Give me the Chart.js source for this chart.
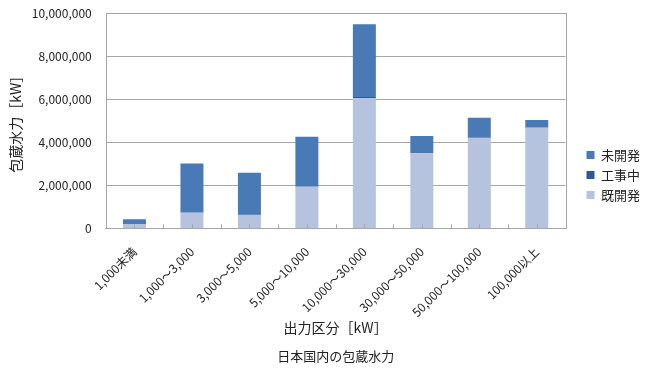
<!DOCTYPE html>
<html>
<head>
<meta charset="utf-8">
<script src="https://cdn.jsdelivr.net/npm/chart.js@4/dist/chart.umd.min.js"></script>
<style>
    html, body { margin: 0; padding: 0; background: #fff; }
    #wrap { width: 645px; height: 370px; }
</style>
</head>
<body>
<div id="wrap"><canvas id="chart"></canvas></div>
<script>
// Output classes [kW]
var categories = ['1,000未満', '1,000～3,000', '3,000～5,000', '5,000～10,000',
    '10,000～30,000', '30,000～50,000', '50,000～100,000', '100,000以上'];

// Hydropower potential [kW]
var developed = [200000, 730000, 620000, 1940000, 6050000, 3490000, 4210000, 4680000];
var underConstruction = [10000, 10000, 10000, 20000, 60000, 10000, 40000, 10000];
var undeveloped = [220000, 2280000, 1960000, 2300000, 3380000, 790000, 890000, 350000];

var yTicksMax = 10000000;
var yTicksStep = 2000000;

var FONT = '"Noto Sans CJK JP", "Noto Sans", sans-serif';
var LINE = '#a6a6a6';

// Draws the box round the plot area and the short tick marks on the category axis.
var plotBorder = {
    id: 'plotBorder',
    afterDraw: function (chart) {
        var area = chart.chartArea, ctx = chart.ctx, x = chart.scales.x;
        var i, n = x.ticks.length, half = (x.getPixelForTick(1) - x.getPixelForTick(0)) / 2;
        var marks = [];

        ctx.save();
        ctx.strokeStyle = LINE;
        ctx.lineWidth = 1;
        ctx.strokeRect(Math.round(area.left) + 0.5, Math.round(area.top) + 0.5,
            Math.round(area.right - area.left), Math.round(area.bottom - area.top));

        for (i = 0; i < n; i++) {
            marks.push(x.getPixelForTick(i));
            if (i > 0) {
                marks.push(x.getPixelForTick(i) - half);
            }
        }
        ctx.beginPath();
        marks.forEach(function (px) {
            px = Math.round(px) + 0.5;
            ctx.moveTo(px, area.bottom);
            ctx.lineTo(px, area.bottom - 4);
        });
        ctx.stroke();
        ctx.restore();
    }
};

Chart.defaults.font.family = FONT;
Chart.defaults.color = '#222';

new Chart(document.getElementById('chart'), {
    type: 'bar',
    data: {
        labels: categories,
        datasets: [
            { label: '既開発', data: developed, backgroundColor: '#b5c3de' },
            { label: '工事中', data: underConstruction, backgroundColor: '#2f5890' },
            { label: '未開発', data: undeveloped, backgroundColor: '#4a7ab6' }
        ]
    },
    options: {
        responsive: true,
        maintainAspectRatio: false,
        animation: false,
        locale: 'en-US',
        layout: { padding: { left: 7, right: -5, top: 0, bottom: 0 } },
        datasets: {
            bar: { categoryPercentage: 1, barPercentage: 0.4 }
        },
        scales: {
            x: {
                stacked: true,
                grid: { display: false },
                border: { color: LINE },
                ticks: {
                    minRotation: 45,
                    maxRotation: 45,
                    font: { size: 12 },
                    padding: 8
                },
                title: {
                    display: true,
                    text: '出力区分［kW］',
                    font: { size: 14 },
                    padding: { top: 4, bottom: 0 }
                },
                // the rotated labels get more room than they use
                afterFit: function (scale) { scale.height -= 12; }
            },
            y: {
                stacked: true,
                min: 0,
                max: yTicksMax,
                // invisible tick marks keep the labels off the plot
                grid: { color: LINE, tickColor: 'rgba(0,0,0,0)', tickLength: 8 },
                border: { display: false },
                ticks: {
                    stepSize: yTicksStep,
                    font: { size: 12 },
                    padding: 6
                },
                title: {
                    display: true,
                    text: '包蔵水力［kW］',
                    font: { size: 14 },
                    padding: { top: 0, bottom: 2 }
                }
            },
            // empty spacer between the plot and the legend
            gap: {
                type: 'linear',
                position: 'right',
                grid: { display: false },
                border: { display: false },
                ticks: { display: false },
                afterFit: function (scale) { scale.width = 14; }
            }
        },
        plugins: {
            legend: {
                position: 'right',
                reverse: true,
                labels: {
                    boxWidth: 8,
                    boxHeight: 8,
                    padding: 7,
                    font: { size: 13 },
                    color: '#222',
                    generateLabels: function (chart) {
                        var items = Chart.defaults.plugins.legend.labels.generateLabels(chart);
                        // blank entry, ends up last after reversing, lifts the list a little
                        items.unshift({ text: '', fillStyle: 'rgba(0,0,0,0)',
                            strokeStyle: 'rgba(0,0,0,0)', lineWidth: 0, hidden: false });
                        return items;
                    }
                }
            },
            title: {
                display: true,
                position: 'bottom',
                fullSize: false,
                text: '日本国内の包蔵水力',
                font: { size: 13, weight: 'normal' },
                padding: { top: 12, bottom: 6 }
            },
            tooltip: { enabled: false }
        }
    },
    plugins: [plotBorder]
});
</script>
</body>
</html>
